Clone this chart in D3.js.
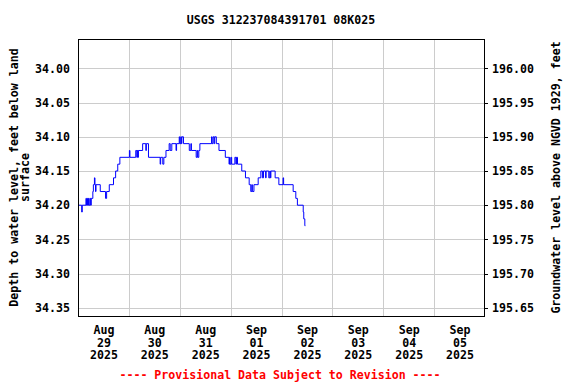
<!DOCTYPE html>
<html><head><meta charset="utf-8">
<script src="https://cdn.jsdelivr.net/npm/d3@7"></script>
<style>
body{margin:0;background:#fff;}
text{font-family:"DejaVu Sans Mono",monospace;font-weight:bold;font-size:11.6px;fill:#000;}
</style></head>
<body><svg id="c" width="576" height="384"></svg>
<script>
const title = "USGS 312237084391701 08K025";
const leftLabel = ["Depth to water level, feet below land", "surface"];
const rightLabel = "Groundwater level above NGVD 1929, feet";
const footer = "---- Provisional Data Subject to Revision ----";
const depthTicks = [34.00, 34.05, 34.10, 34.15, 34.20, 34.25, 34.30, 34.35];
const dayTicks = ["2025-08-29","2025-08-30","2025-08-31","2025-09-01","2025-09-02","2025-09-03","2025-09-04","2025-09-05"];
const datumOffset = 230.00;
// step-change readings: time and depth (ft below land surface)
const times = [
"2025-08-29T00:00","2025-08-29T00:15","2025-08-29T01:45","2025-08-29T02:00","2025-08-29T03:45","2025-08-29T04:00",
"2025-08-29T04:30","2025-08-29T04:45","2025-08-29T05:00","2025-08-29T05:15","2025-08-29T05:45","2025-08-29T06:00",
"2025-08-29T06:15","2025-08-29T07:00","2025-08-29T07:15","2025-08-29T07:45","2025-08-29T08:00","2025-08-29T08:15",
"2025-08-29T08:30","2025-08-29T10:30","2025-08-29T13:00","2025-08-29T13:30","2025-08-29T14:45","2025-08-29T16:45",
"2025-08-29T17:45","2025-08-29T18:45","2025-08-29T19:45","2025-08-30T00:15","2025-08-30T00:30","2025-08-30T03:15",
"2025-08-30T03:45","2025-08-30T04:00","2025-08-30T04:15","2025-08-30T04:30","2025-08-30T06:30","2025-08-30T08:00",
"2025-08-30T08:15","2025-08-30T09:15","2025-08-30T14:45","2025-08-30T15:00","2025-08-30T16:00","2025-08-30T16:30",
"2025-08-30T17:30","2025-08-30T19:00","2025-08-30T19:30","2025-08-30T20:15","2025-08-30T22:15","2025-08-30T22:30",
"2025-08-30T23:45","2025-08-31T00:00","2025-08-31T00:30","2025-08-31T00:45","2025-08-31T01:00","2025-08-31T01:45",
"2025-08-31T04:30","2025-08-31T05:15","2025-08-31T05:30","2025-08-31T07:45","2025-08-31T08:15","2025-08-31T08:30",
"2025-08-31T09:00","2025-08-31T09:30","2025-08-31T15:00","2025-08-31T15:15","2025-08-31T15:45","2025-08-31T16:15",
"2025-08-31T16:30","2025-08-31T17:15","2025-08-31T18:30","2025-08-31T21:30","2025-08-31T23:15","2025-08-31T23:30",
"2025-08-31T23:45","2025-09-01T00:15","2025-09-01T00:30","2025-09-01T02:00","2025-09-01T02:30","2025-09-01T02:45",
"2025-09-01T03:15","2025-09-01T05:15","2025-09-01T07:00","2025-09-01T08:45","2025-09-01T09:30","2025-09-01T10:00",
"2025-09-01T10:15","2025-09-01T11:00","2025-09-01T13:00","2025-09-01T14:15","2025-09-01T15:00","2025-09-01T15:30",
"2025-09-01T16:30","2025-09-01T16:45","2025-09-01T18:00","2025-09-01T18:30","2025-09-01T18:45","2025-09-01T19:00",
"2025-09-01T21:00","2025-09-01T22:45","2025-09-02T00:45","2025-09-02T01:00","2025-09-02T05:30","2025-09-02T06:45",
"2025-09-02T07:30","2025-09-02T10:15","2025-09-02T10:30","2025-09-02T11:00","2025-09-02T11:15"];
const depths = [
34.19,34.20,34.21,34.20,34.19,34.20,
34.19,34.20,34.19,34.20,34.19,34.20,
34.19,34.18,34.17,34.16,34.17,34.18,
34.17,34.18,34.19,34.18,34.17,34.16,
34.15,34.14,34.13,34.12,34.13,34.12,
34.13,34.12,34.13,34.12,34.11,34.12,
34.11,34.13,34.14,34.13,34.14,34.13,
34.12,34.11,34.12,34.11,34.12,34.11,
34.10,34.11,34.10,34.11,34.10,34.11,
34.12,34.11,34.12,34.13,34.12,34.13,
34.12,34.11,34.10,34.11,34.10,34.11,
34.10,34.11,34.12,34.13,34.14,34.13,
34.14,34.13,34.14,34.13,34.14,34.13,
34.14,34.15,34.16,34.17,34.18,34.17,
34.18,34.17,34.16,34.15,34.16,34.15,
34.16,34.15,34.16,34.15,34.16,34.15,
34.16,34.17,34.16,34.17,34.18,34.19,
34.20,34.21,34.22,34.23,34.23];

const parse = d3.timeParse("%Y-%m-%dT%H:%M");
const parseDay = d3.timeParse("%Y-%m-%d");
const data = times.map((t,i)=>({t:parse(t), v:depths[i]}));

const svg = d3.select("#c");
const L=78, R=485, T=39, B=316;
const x = d3.scaleTime().domain([parseDay("2025-08-29"), parseDay("2025-09-06")]).range([L,R]);
const y = d3.scaleLinear().domain([33.957, 34.362]).range([T,B]);
const y2 = d3.scaleLinear().domain([datumOffset-33.957, datumOffset-34.362]).range([T,B]);

// gridlines
const grid = svg.append("g").attr("stroke","#cccccc").attr("stroke-width",1).attr("shape-rendering","crispEdges");
depthTicks.forEach(d=>{
  grid.append("line").attr("x1",L).attr("x2",R).attr("y1",Math.round(y(d))+0.5).attr("y2",Math.round(y(d))+0.5);
});
const dayLines = dayTicks.slice(1).map(parseDay);
dayLines.forEach(d=>{
  grid.append("line").attr("x1",Math.round(x(d))+0.5).attr("x2",Math.round(x(d))+0.5).attr("y1",T).attr("y2",B);
});

// left axis
const leftAxis = d3.axisLeft(y).tickValues(depthTicks).tickFormat(d3.format(".2f")).tickSize(0).tickPadding(8);
const gl = svg.append("g").attr("transform",`translate(${L},0)`).call(leftAxis);
gl.select(".domain").remove();
gl.selectAll("text").style("font-family","DejaVu Sans Mono").style("font-weight","bold").style("font-size","11.6px");

// right axis
const rightTicks = depthTicks.map(d=>+(datumOffset-d).toFixed(2));
const rightAxis = d3.axisRight(y2).tickValues(rightTicks).tickFormat(d3.format(".2f")).tickSize(3).tickPadding(4);
const gr = svg.append("g").attr("transform",`translate(${R},0)`).call(rightAxis);
gr.select(".domain").remove();
gr.selectAll("line").attr("stroke","#000").attr("shape-rendering","crispEdges");
gr.selectAll("text").style("font-family","DejaVu Sans Mono").style("font-weight","bold").style("font-size","11.6px");

// bottom axis labels at noon
const xAxis = d3.axisBottom(x).tickValues(dayTicks.map(d=>d3.timeHour.offset(parseDay(d),12))).tickSize(0).tickFormat("");
const gx = svg.append("g").attr("transform",`translate(0,${B})`).call(xAxis);
gx.select(".domain").remove();
const fmtM = d3.timeFormat("%b"), fmtD = d3.timeFormat("%d"), fmtY = d3.timeFormat("%Y");
gx.selectAll(".tick").each(function(d){
  const g = d3.select(this);
  [fmtM(d), fmtD(d), fmtY(d)].forEach((s,i)=>{
    g.append("text").attr("x",0).attr("y",18+i*12.7).attr("text-anchor","middle").attr("fill","#000").text(s);
  });
});

// data line
const line = d3.line().x(d=>x(d.t)).y(d=>y(d.v)).curve(d3.curveStepAfter);
svg.append("path").datum(data).attr("fill","none").attr("stroke","#0000ff").attr("stroke-width",1).attr("d",line);

// frame
svg.append("rect").attr("x",L+0.5).attr("y",T+0.5).attr("width",R-L-1).attr("height",B-T).attr("fill","none").attr("stroke","#000").attr("stroke-width",1).attr("shape-rendering","crispEdges");

// title
svg.append("text").attr("x",281).attr("y",24).attr("text-anchor","middle").text(title);
// left label
const ly = (T+B)/2;
svg.append("text").attr("transform",`translate(18,${ly}) rotate(-90)`).attr("text-anchor","middle").text(leftLabel[0]);
svg.append("text").attr("transform",`translate(29,${ly}) rotate(-90)`).attr("text-anchor","middle").text(leftLabel[1]);
// right label
svg.append("text").attr("transform",`translate(560,${ly}) rotate(-90)`).attr("text-anchor","middle").text(rightLabel);
// footer
svg.append("text").attr("x",280).attr("y",379).attr("text-anchor","middle").style("fill","#ff0000").text(footer);
</script></body></html>
